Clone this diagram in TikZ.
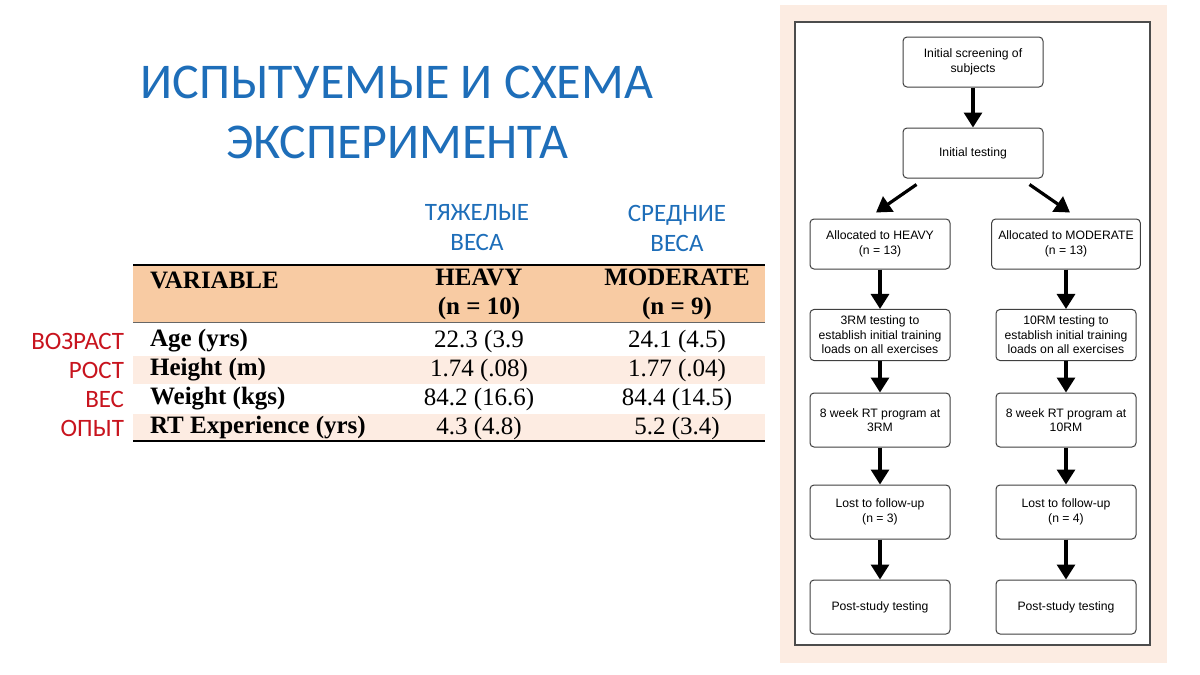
\documentclass[tikz,border=0pt]{standalone}
\usepackage{fontspec}
\setmainfont{Liberation Serif}
\newfontfamily\calfnt{Carlito}
\newfontfamily\arsfnt{Liberation Sans}
\usetikzlibrary{arrows.meta}
\definecolor{ttl}{RGB}{30,110,185}
\definecolor{hdr}{RGB}{248,203,163}
\definecolor{rowc}{RGB}{253,236,226}
\definecolor{panel}{RGB}{252,236,226}
\definecolor{lbl}{RGB}{200,20,30}
\begin{document}
\begin{tikzpicture}[x=0.5pt,y=-0.5pt,
 box/.style={draw=black!75,rounded corners=2pt,line width=0.5pt,minimum width=70pt,minimum height=25pt,align=center,font=\arsfnt\fontsize{6.1}{7.2}\selectfont,fill=white},
 arr/.style={-{Triangle[length=7.5pt,width=9pt]},line width=1.6pt},
 tv/.style={font=\fontsize{12.5}{14}\selectfont},
 tb/.style={font=\bfseries\fontsize{12.5}{14.5}\selectfont},
 rl/.style={font=\calfnt\fontsize{12.5}{14}\selectfont,text=lbl,anchor=east},
 bl/.style={font=\calfnt\fontsize{12.5}{15}\selectfont,text=ttl,align=center}]
\useasboundingbox[fill=white] (0,0) rectangle (1200,675);
% title
\node[font=\calfnt\fontsize{25}{30}\selectfont,text=ttl,align=center] (title) at (397,112) {ИСПЫТУЕМЫЕ И СХЕМА\\ЭКСПЕРИМЕНТА};
% table
\node[bl] (bh) at (477,228) {ТЯЖЕЛЫЕ\\ВЕСА};
\node[bl] (bm) at (677,228) {СРЕДНИЕ\\ВЕСА};
\fill[hdr] (133,265) rectangle (765,322);
\fill[rowc] (133,356) rectangle (765,384);
\fill[rowc] (133,414) rectangle (765,441);
\draw[line width=1.3pt] (133,265) -- (765,265);
\draw[line width=0.4pt,black!60] (133,322) -- (765,322);
\draw[line width=0.6pt] (133,441) -- (765,441);
\node[tb,anchor=west] (hv) at (143,280) {VARIABLE};
\node[tb,align=center] (hh) at (479,294) {HEAVY\\(n = 10)};
\node[tb,align=center] (hm) at (677,294) {MODERATE\\(n = 9)};
\foreach \y/\v/\a/\b/\r [count=\i] in {341/Age (yrs)/22.3 (3.9/24.1 (4.5)/ВОЗРАСТ,370/Height (m)/1.74 (.08)/1.77 (.04)/РОСТ,399/Weight (kgs)/84.2 (16.6)/84.4 (14.5)/ВЕС,428/RT Experience (yrs)/4.3 (4.8)/5.2 (3.4)/ОПЫТ}{
 \node[tb,anchor=west] (v\i) at (143,\y) {\v};
 \node[tv] (a\i) at (479,\y) {\a};
 \node[tv] (b\i) at (677,\y) {\b};
 \node[rl] (r\i) at (131,\y) {\r};
}
% panel
\fill[panel] (780,5) rectangle (1167,663);
\draw[fill=white,draw=black!70,line width=0.6pt] (795,22) rectangle (1150,645);
\node[box] (s) at (973,62) {Initial screening of\\subjects};
\node[box] (t) at (973,153) {Initial testing};
\node[box] (h1) at (880,244) {Allocated to HEAVY\\(n = 13)};
\node[box] (m1) at (1066,244) {Allocated to MODERATE\\(n = 13)};
\node[box] (h2) at (880,335) {3RM testing to\\establish initial training\\loads on all exercises};
\node[box] (m2) at (1066,335) {10RM testing to\\establish initial training\\loads on all exercises};
\node[box,minimum height=27pt] (h3) at (880,420) {8 week RT program at\\3RM};
\node[box,minimum height=27pt] (m3) at (1066,420) {8 week RT program at\\10RM};
\node[box,minimum height=27pt] (h4) at (880,512) {Lost to follow-up\\(n = 3)};
\node[box,minimum height=27pt] (m4) at (1066,512) {Lost to follow-up\\(n = 4)};
\node[box,minimum height=27pt] (h5) at (880,607) {Post-study testing};
\node[box,minimum height=27pt] (m5) at (1066,607) {Post-study testing};
\draw[arr] (s) -- (t);
\draw[arr] ([xshift=7pt,yshift=-3pt]t.south west) -- ([xshift=-2pt,yshift=3pt]h1.north);
\draw[arr] ([xshift=-7pt,yshift=-3pt]t.south east) -- ([xshift=2pt,yshift=3pt]m1.north);
\foreach \p in {h,m}{
 \draw[arr] (\p1) -- (\p2); \draw[arr] (\p2) -- (\p3); \draw[arr] (\p3) -- (\p4); \draw[arr] (\p4) -- (\p5);
}
\end{tikzpicture}
\end{document}
